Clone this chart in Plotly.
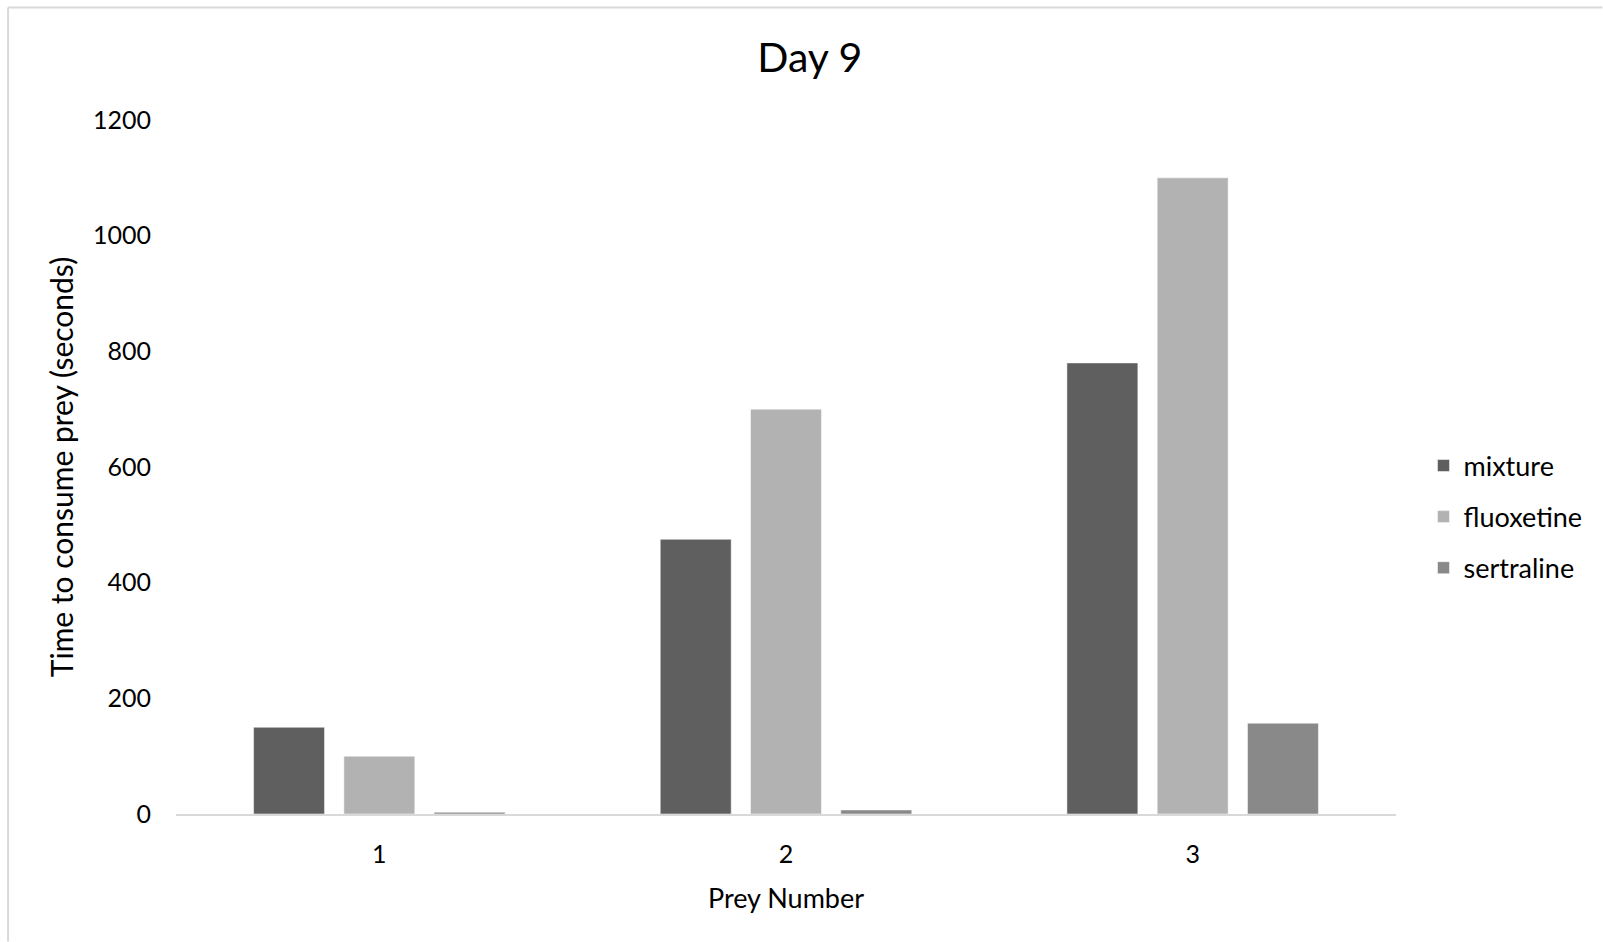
import plotly.graph_objects as go

categories = ["1", "2", "3"]
series_names = ["mixture", "fluoxetine", "sertraline"]
mixture = [150, 475, 780]
fluoxetine = [100, 700, 1100]
sertraline = [3, 7, 157]
colors = ["#5f5f5f", "#b2b2b2", "#898989"]
y_ticks = [0, 200, 400, 600, 800, 1000, 1200]

FONT = "Lato"
W, H = 1603, 942
L, R, T, B = 176, 1603 - 1396.5, 119.6, 942 - 814.3

fig = go.Figure()
for name, vals, col in zip(series_names, [mixture, fluoxetine, sertraline], colors):
    fig.add_trace(go.Bar(
        x=categories, y=vals, name=name, legendgroup=name,
        marker=dict(color=col, line=dict(color="rgba(255,255,255,0.5)", width=1)),
    ))

fig.update_layout(
    width=W, height=H,
    margin=dict(l=L, r=R, t=T, b=B, autoexpand=False),
    paper_bgcolor="white", plot_bgcolor="white",
    barmode="group", bargap=0.334, bargroupgap=0.214,
    font=dict(family=FONT, color="black", size=25),
    title=dict(text="Day 9", x=(810 - L) / (W - L - R), xref="paper", xanchor="center",
               y=1 - 58 / H, yanchor="middle", yref="container",
               font=dict(size=41, family=FONT, color="black")),
    showlegend=True,
    legend=dict(x=(1424 - L) / (W - L - R), xanchor="left", y=0.428, yanchor="middle",
                font=dict(size=27, family=FONT, color="black"),
                tracegroupgap=13, bgcolor="rgba(0,0,0,0)"),
    xaxis=dict(type="category", range=[-0.5, 2.5], showline=True, linecolor="#d9d9d9",
               linewidth=2, showgrid=False, ticks="", zeroline=False,
               tickfont=dict(size=25, family=FONT, color="black"),
               ticklabelstandoff=17,
               title=dict(text="Prey Number", standoff=22,
                          font=dict(size=27, family=FONT, color="black"))),
    yaxis=dict(range=[0, 1200], tickvals=y_ticks, showgrid=False, showline=False,
               zeroline=False, ticks="",
               tickfont=dict(size=25, family=FONT, color="black"),
               ticklabelstandoff=24,
               title=dict(text="Time to consume prey (seconds)", standoff=10,
                          font=dict(size=30, family=FONT, color="black"))),
    shapes=[
        dict(type="line", xref="paper", yref="paper",
             x0=(8 - L) / (W - L - R), x1=(W - L) / (W - L - R),
             y0=(H - B - 7) / (H - T - B), y1=(H - B - 7) / (H - T - B),
             line=dict(color="#d9d9d9", width=2)),
        dict(type="line", xref="paper", yref="paper",
             x0=(8 - L) / (W - L - R), x1=(8 - L) / (W - L - R),
             y0=(H - B - 7) / (H - T - B), y1=-B / (H - T - B),
             line=dict(color="#d9d9d9", width=2)),
    ],
)

fig.write_html("out.html")
